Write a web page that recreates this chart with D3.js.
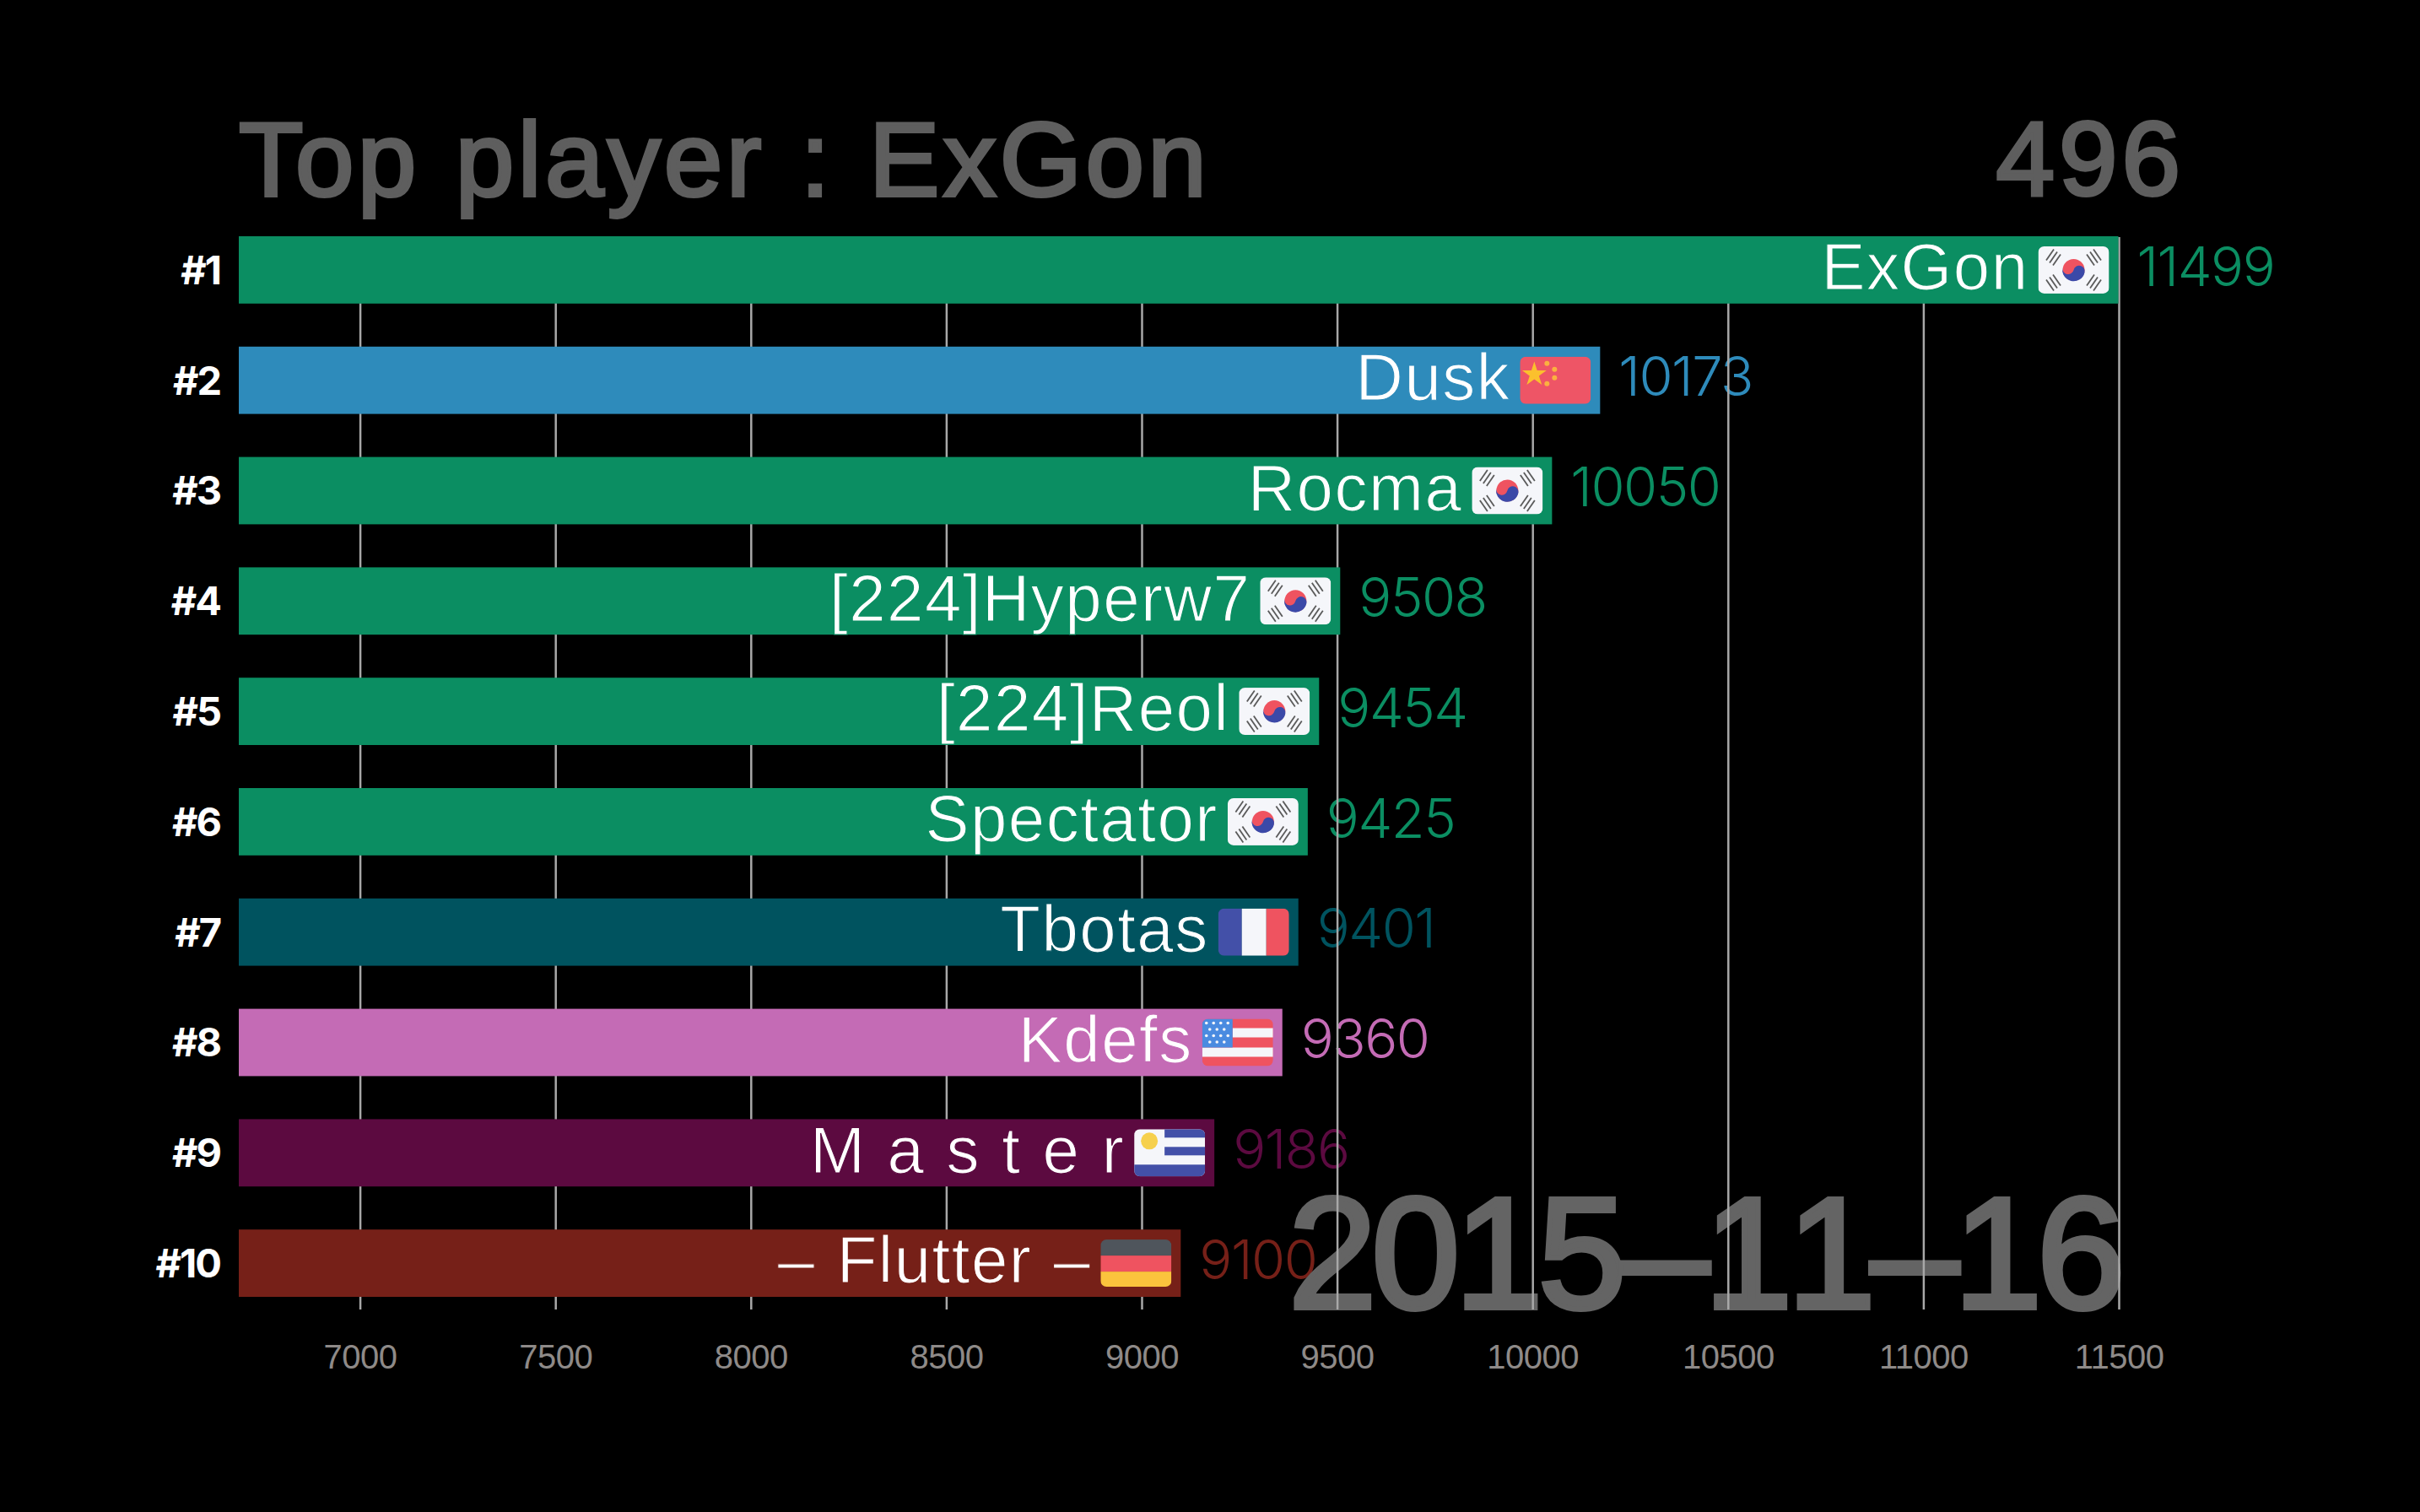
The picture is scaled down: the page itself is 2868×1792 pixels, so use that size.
<!DOCTYPE html>
<html><head><meta charset="utf-8">
<script src="https://cdn.jsdelivr.net/npm/d3@7/dist/d3.min.js"></script>
<style>html,body{margin:0;background:#000}svg{display:block}</style></head>
<body><script>
const names=["ExGon","Dusk","Rocma","[224]Hyperw7","[224]Reol","Spectator","Tbotas","Kdefs","M a s t e r","– Flutter –"];
const scores=[11499,10173,10050,9508,9454,9425,9401,9360,9186,9100];
const countries=["kr","cn","kr","kr","kr","kr","fr","us","uy","de"];
const colors=["#0b8e62","#2e8bbb","#0b8e62","#0b8e62","#0b8e62","#0b8e62","#00535f","#c46bb5","#5c0a40","#762018"];
const ranks=["#1","#2","#3","#4","#5","#6","#7","#8","#9","#10"];
const tickValues=[7000,7500,8000,8500,9000,9500,10000,10500,11000,11500];
const titleText="Top player : ExGon", counterText="496", dateText="2015–11–16";

const W=2868,H=1792;
const svg=d3.select("body").append("svg").attr("width",W).attr("height",H).style("background","#000");
const x=d3.scaleLinear().domain([6690,11500]).range([283,2511]);
const y=d3.scaleBand().domain(ranks).range([280,1537]).paddingInner(0.39).paddingOuter(0);
const rows=ranks.map((r,i)=>({r,i,name:names[i],v:scores[i],c:colors[i],f:countries[i]}));
const T=(t,xx,yy,size,weight,fam,anchor,fill)=>svg.append("text").attr("x",xx).attr("y",yy).attr("font-size",size).attr("font-weight",weight).attr("font-family",fam).attr("text-anchor",anchor).attr("fill",fill).text(t);

// value labels sit under the date and the grid
svg.append("g").selectAll("text").data(rows).join("text")
  .attr("x",d=>x(d.v)+22).attr("y",d=>y(d.r)+y.bandwidth()/2-4).attr("dy","0.35em")
  .attr("fill",d=>d.c).attr("font-family","Inter").attr("font-weight",350).attr("font-size",65).attr("letter-spacing",-1.5).text(d=>d.v);

T(titleText,283,232,125,400,"Liberation Sans","start","#5e5e5e").attr("stroke","#5e5e5e").attr("stroke-width",4).attr("letter-spacing",4.4).attr("word-spacing",3);
T(counterText,2589,231,125,400,"Liberation Sans","end","#5e5e5e").attr("stroke","#5e5e5e").attr("stroke-width",4).attr("letter-spacing",5);
T(dateText,1527,1550,188,400,"Liberation Sans","start","#646464").attr("stroke","#646464").attr("stroke-width",6).attr("letter-spacing",-6).style("font-kerning","none");

// axis + grid
const axis=d3.axisBottom(x).tickValues(tickValues).tickFormat(d3.format("d")).tickSize(1552-281).tickPadding(42);
const ax=svg.append("g").attr("transform","translate(0,281)").call(axis);
ax.select(".domain").remove();
ax.selectAll(".tick line").attr("stroke","#a8a8a8").attr("stroke-width",2.5);
ax.selectAll(".tick text").attr("fill","#8e8a88").attr("font-family","Liberation Sans").attr("font-size",40).attr("letter-spacing",-0.5);

// rank labels
svg.append("g").selectAll("text").data(ranks).join("text")
  .attr("x",261).attr("y",d=>y(d)+y.bandwidth()/2).attr("dy","0.36em")
  .attr("text-anchor","end").attr("fill","#fff").attr("font-family","Inter").attr("font-weight",700)
  .attr("font-size",47).attr("letter-spacing",-2).text(d=>d);

// bars
const g=svg.append("g").selectAll("g").data(rows).join("g");
g.append("rect").attr("x",x(6690)).attr("y",d=>y(d.r)).attr("width",d=>x(d.v)-x(6690)).attr("height",y.bandwidth()).attr("fill",d=>d.c);

g.append("text").attr("x",d=>x(d.v)-106).attr("y",d=>y(d.r)+y.bandwidth()/2-4).attr("dy","0.35em")
  .attr("text-anchor","end").attr("fill","#fff").attr("stroke",d=>d.c).attr("stroke-width",1.2)
  .attr("font-family","Liberation Sans").attr("font-size",78)
  .attr("letter-spacing",1.5).attr("word-spacing",2).text(d=>d.name);

// flags
const FW=84,FH=56;
svg.append("defs").append("clipPath").attr("id","fc").append("rect").attr("width",FW).attr("height",FH).attr("rx",7);
const fl=g.append("g").attr("transform",d=>`translate(${x(d.v)-FW-11},${y(d.r)+y.bandwidth()/2-FH/2})`).append("g").attr("clip-path","url(#fc)");
const R=(s,a,b,c,d,f)=>s.append("rect").attr("x",a).attr("y",b).attr("width",c).attr("height",d).attr("fill",f);
fl.each(function(d){
  const s=d3.select(this), f=d.f;
  if(f==="kr"){
    R(s,0,0,FW,FH,"#f5f6fa");
    s.append("circle").attr("cx",42).attr("cy",28).attr("r",13).attr("fill","#ef5360");
    s.append("path").attr("d","M29,25 A13,13 0 0 0 55,31 A6.5,6.5 0 0 0 42,28 A6.5,6.5 0 0 1 29,25Z").attr("fill","#3b49a8");
    [[-1,-1],[1,-1],[-1,1],[1,1]].forEach(([sx,sy])=>{
      [0,5,10].forEach(o=>{
        const cx=42+sx*(20+o*0.8), cy=28+sy*(12+o*0.6), dx=sx*sy*-4.5, dy=6.5;
        s.append("line").attr("x1",cx-dx).attr("y1",cy-dy).attr("x2",cx+dx).attr("y2",cy+dy).attr("stroke","#5a5a5a").attr("stroke-width",1.8);
      });
    });
  } else if(f==="cn"){
    R(s,0,0,FW,FH,"#ee5566");
    s.append("path").attr("d",d3.symbol().type(d3.symbolStar).size(260)()).attr("transform","translate(17,21)").attr("fill","#fbc02d");
    [[32,8],[41,15],[41,25],[32,32]].forEach(p=>s.append("circle").attr("cx",p[0]).attr("cy",p[1]).attr("r",3).attr("fill","#fbb040"));
  } else if(f==="fr"){
    R(s,0,0,28,FH,"#4350a8");R(s,28,0,29,FH,"#f5f6fa");R(s,57,0,27,FH,"#ef5360");
  } else if(f==="us"){
    R(s,0,0,FW,FH,"#ef5360");
    R(s,36,11,48,11,"#f5f6fa");R(s,0,34,FW,11,"#f5f6fa");
    R(s,0,0,36,34,"#4a8be0");
    for(let r=0;r<4;r++)for(let c=0;c<4-(r%2);c++)s.append("circle").attr("cx",5+(r%2?4:0)+c*8.5).attr("cy",5+r*7.5).attr("r",1.8).attr("fill","#f5f6fa");
  } else if(f==="uy"){
    R(s,0,0,FW,FH,"#f5f6fa");
    [0,21].forEach(t=>R(s,36,t,48,10,"#4350a8"));
    R(s,0,42,FW,14,"#4350a8");
    s.append("circle").attr("cx",18).attr("cy",14).attr("r",10).attr("fill","#f6d04d");
  } else if(f==="de"){
    R(s,0,0,FW,19,"#4f555c");R(s,0,19,FW,19,"#ef5360");R(s,0,38,FW,18,"#fbc33d");
  }
});
</script></body></html>
